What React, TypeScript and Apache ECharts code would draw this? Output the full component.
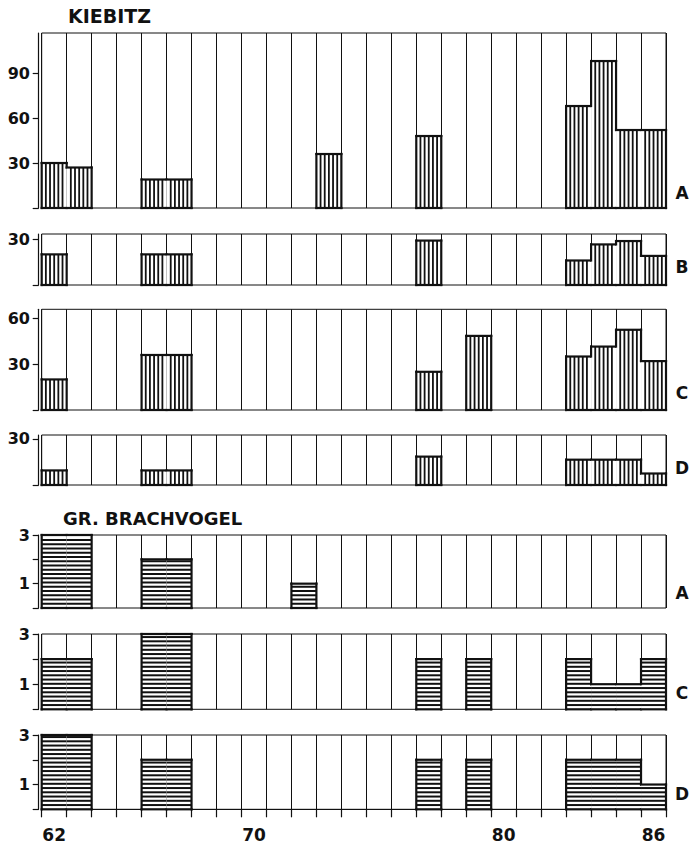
import React, { useEffect, useRef } from 'react';
import * as echarts from 'echarts';

// ---------- DATA ----------
const years = [
  '62', '63', '64', '65', '66', '67', '68', '69', '70', '71', '72', '73', '74',
  '75', '76', '77', '78', '79', '80', '81', '82', '83', '84', '85', '86',
];
const xLabelYears = ['62', '70', '80', '86'];

// Kiebitz (vertical hatching)
const kiebitzA = [30, 27, 0, 0, 19, 19, 0, 0, 0, 0, 0, 36, 0, 0, 0, 48, 0, 0, 0, 0, 0, 68, 98, 52, 52];
const kiebitzB = [20, 0, 0, 0, 20, 20, 0, 0, 0, 0, 0, 0, 0, 0, 0, 29, 0, 0, 0, 0, 0, 16, 26.5, 28.7, 19];
const kiebitzC = [20, 0, 0, 0, 36, 36, 0, 0, 0, 0, 0, 0, 0, 0, 0, 25, 0, 48.5, 0, 0, 0, 35, 41.5, 52.5, 32];
const kiebitzD = [9.5, 0, 0, 0, 9.5, 9.5, 0, 0, 0, 0, 0, 0, 0, 0, 0, 18.5, 0, 0, 0, 0, 0, 16.5, 16.5, 16.5, 7.5];

// Gr. Brachvogel (horizontal hatching)
const brachA = [3, 3, 0, 0, 2, 2, 0, 0, 0, 0, 1, 0, 0, 0, 0, 0, 0, 0, 0, 0, 0, 0, 0, 0, 0];
const brachC = [2, 2, 0, 0, 3, 3, 0, 0, 0, 0, 0, 0, 0, 0, 0, 2, 0, 2, 0, 0, 0, 2, 1, 1, 2];
const brachD = [3, 3, 0, 0, 2, 2, 0, 0, 0, 0, 0, 0, 0, 0, 0, 2, 0, 2, 0, 0, 0, 2, 2, 2, 1];

// Y-axis ticks / labels
const ticksKA = [0, 30, 60, 90];
const labelsKA = [30, 60, 90];
const ticksKB = [0, 30];
const labelsKB = [30];
const ticksKC = [0, 30, 60];
const labelsKC = [30, 60];
const ticksKD = [0, 30];
const labelsKD = [30];
const ticksBr = [0, 1, 2, 3];
const labelsBr = [1, 3];

const maxKA = 116.7;
const maxKB = 33.3;
const maxKC = 65.9;
const maxKD = 32.6;
const maxBr = 3;

// ---------- LAYOUT ----------
const INK = '#111';
const FONT = '"DejaVu Sans", "Liberation Sans", sans-serif';
const GRID_LEFT = 41.7;
const GRID_WIDTH = 624.3;

type Panel = {
  data: number[];
  max: number;
  ticks: number[];
  labels: number[];
  hatch: 'v' | 'h';
  top: number;
  height: number;
  letter: string;
  letterY: number;
};

const panels: Panel[] = [
  { data: kiebitzA, max: maxKA, ticks: ticksKA, labels: labelsKA, hatch: 'v', top: 33, height: 175, letter: 'A', letterY: 193 },
  { data: kiebitzB, max: maxKB, ticks: ticksKB, labels: labelsKB, hatch: 'v', top: 234, height: 51, letter: 'B', letterY: 267 },
  { data: kiebitzC, max: maxKC, ticks: ticksKC, labels: labelsKC, hatch: 'v', top: 309.3, height: 100.7, letter: 'C', letterY: 393 },
  { data: kiebitzD, max: maxKD, ticks: ticksKD, labels: labelsKD, hatch: 'v', top: 435, height: 50, letter: 'D', letterY: 468 },
  { data: brachA, max: maxBr, ticks: ticksBr, labels: labelsBr, hatch: 'h', top: 535, height: 73, letter: 'A', letterY: 593 },
  { data: brachC, max: maxBr, ticks: ticksBr, labels: labelsBr, hatch: 'h', top: 634, height: 75.3, letter: 'C', letterY: 693 },
  { data: brachD, max: maxBr, ticks: ticksBr, labels: labelsBr, hatch: 'h', top: 735, height: 74.3, letter: 'D', letterY: 794 },
];

function makeRenderItem(hatch: 'v' | 'h') {
  return (params: any, api: any) => {
    const v = api.value(1) as number;
    if (!v) return undefined;
    const i = api.value(0);
    const prev = api.value(2) as number;
    const next = api.value(3) as number;
    const c = api.coord([i, v]);
    const base = api.coord([i, 0]);
    const w = api.size([1, 0])[0];
    const left = c[0] - w / 2;
    const right = c[0] + w / 2;
    const top = c[1];
    const bottom = base[1];
    const children: any[] = [];
    children.push({
      type: 'rect',
      shape: { x: left, y: top, width: w, height: bottom - top },
      style: { fill: '#fff', stroke: null },
    });
    if (hatch === 'v') {
      const n = 6;
      const step = w / n;
      for (let k = 1; k < n; k++) {
        const x = left + step * k;
        children.push({
          type: 'line',
          shape: { x1: x, y1: top, x2: x, y2: bottom },
          style: { stroke: INK, lineWidth: 1.8 },
        });
      }
    } else {
      const step = 4.25;
      for (let y = bottom - step; y > top + 1.5; y -= step) {
        children.push({
          type: 'line',
          shape: { x1: left, y1: y, x2: right, y2: y },
          style: { stroke: INK, lineWidth: 2 },
        });
      }
    }
    const edge = { stroke: INK, lineWidth: 2.2, lineCap: 'square' };
    children.push({ type: 'line', shape: { x1: left, y1: top, x2: right, y2: top }, style: edge });
    children.push({ type: 'line', shape: { x1: left, y1: bottom, x2: right, y2: bottom }, style: edge });
    if (!(prev >= v)) {
      const yp = api.coord([i, prev || 0])[1];
      children.push({ type: 'line', shape: { x1: left, y1: top, x2: left, y2: yp }, style: edge });
    }
    if (!(next >= v)) {
      const yn = api.coord([i, next || 0])[1];
      children.push({ type: 'line', shape: { x1: right, y1: top, x2: right, y2: yn }, style: edge });
    }
    return { type: 'group', children };
  };
}

export default function App() {
  const ref = useRef<HTMLDivElement>(null);

  useEffect(() => {
    if (!ref.current) return;
    const chart = echarts.init(ref.current, undefined, { renderer: 'svg' });

    const grid: any[] = [];
    const xAxis: any[] = [];
    const yAxis: any[] = [];
    const series: any[] = [];
    const last = panels.length - 1;

    panels.forEach((p, idx) => {
      grid.push({
        left: GRID_LEFT,
        top: p.top,
        width: GRID_WIDTH,
        height: p.height,
        show: true,
        borderColor: INK,
        borderWidth: 1,
        backgroundColor: 'transparent',
        containLabel: false,
        outerBoundsMode: 'none',
      });
      const isLast = idx === last;
      xAxis.push({
        type: 'category',
        gridIndex: idx,
        data: years,
        boundaryGap: true,
        position: 'bottom',
        offset: isLast ? 5 : 0,
        axisLine: { show: isLast, lineStyle: { color: INK, width: 1.2 } },
        axisTick: { show: isLast, interval: 0, length: 8, lineStyle: { color: INK, width: 1.2 } },
        axisLabel: {
          show: isLast,
          interval: 0,
          margin: 12,
          color: INK,
          fontFamily: FONT,
          fontWeight: 'bold',
          fontSize: 17,
          formatter: (val: string) => (xLabelYears.includes(val) ? val : ''),
        },
        splitLine: { show: true, interval: 0, lineStyle: { color: INK, width: 1 } },
      });
      yAxis.push({
        type: 'value',
        gridIndex: idx,
        min: 0,
        max: p.max,
        offset: 3,
        axisLine: { show: true, lineStyle: { color: INK, width: 1.2 } },
        axisTick: { show: true, length: 6, customValues: p.ticks, lineStyle: { color: INK, width: 1.2 } },
        axisLabel: {
          show: true,
          customValues: p.labels,
          margin: 8.7,
          color: INK,
          fontFamily: FONT,
          fontWeight: 'bold',
          fontSize: 16,
        },
        splitLine: { show: false },
      });
      series.push({
        type: 'custom',
        xAxisIndex: idx,
        yAxisIndex: idx,
        renderItem: makeRenderItem(p.hatch),
        encode: { x: 0, y: 1 },
        data: p.data.map((v, i) => [i, v, i > 0 ? p.data[i - 1] : 0, i < p.data.length - 1 ? p.data[i + 1] : 0]),
        silent: true,
      });
    });

    const graphic: any[] = [
      {
        type: 'text',
        x: 68,
        y: 16,
        style: { text: 'KIEBITZ', fill: INK, font: `bold 19px ${FONT}`, align: 'left', verticalAlign: 'middle' },
      },
      {
        type: 'text',
        x: 63,
        y: 518,
        style: { text: 'GR. BRACHVOGEL', fill: INK, font: `bold 18px ${FONT}`, align: 'left', verticalAlign: 'middle' },
      },
      ...panels.map((p) => ({
        type: 'text',
        x: 682,
        y: p.letterY,
        style: { text: p.letter, fill: INK, font: `bold 17px ${FONT}`, align: 'center', verticalAlign: 'middle' },
      })),
    ];

    chart.setOption({
      animation: false,
      backgroundColor: '#fff',
      grid,
      xAxis,
      yAxis,
      series,
      graphic,
    });

    return () => chart.dispose();
  }, []);

  return (
    <div
      ref={ref}
      style={{ position: 'absolute', left: 0, top: 0, width: 692, height: 844, background: '#fff' }}
    />
  );
}
